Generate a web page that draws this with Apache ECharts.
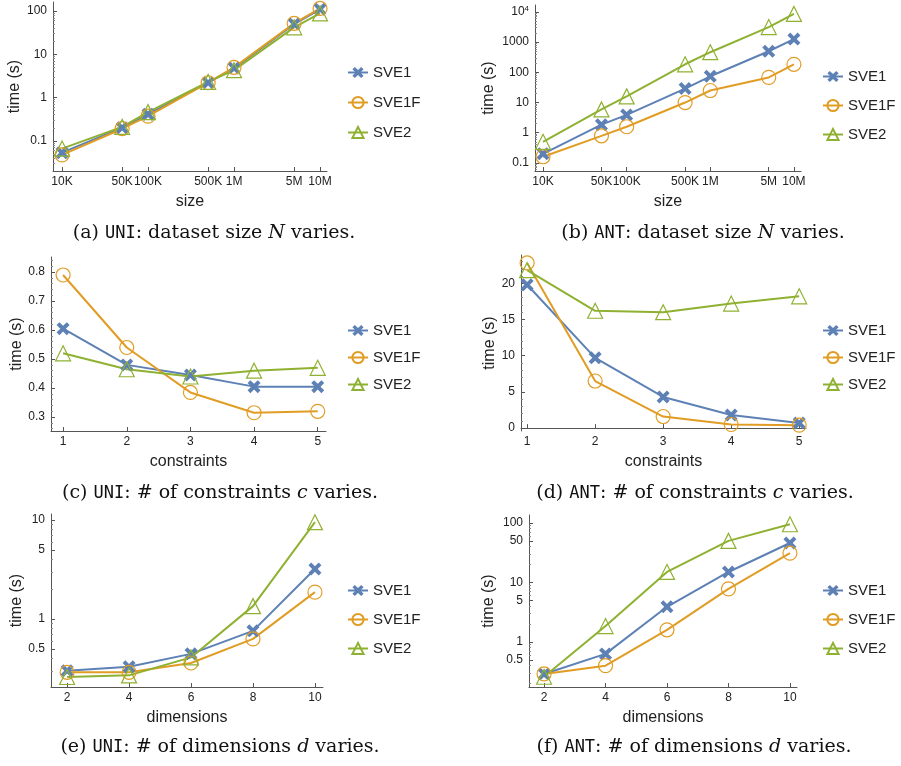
<!DOCTYPE html>
<html>
<head>
<meta charset="utf-8">
<title>SVE timings</title>
<script src="https://cdn.jsdelivr.net/npm/echarts@6/dist/echarts.min.js"></script>
<style>
  html, body { margin: 0; padding: 0; background: #fff; }
  #main { width: 901px; height: 766px; }
</style>
</head>
<body>
<div id="main"></div>
<script>
/* ---------------- data ---------------- */
// x values
var sizes = [1e4, 5e4, 1e5, 5e5, 1e6, 5e6, 1e7];
var sizeLabels = ['10K', '50K', '100K', '500K', '1M', '5M', '10M'];
var constraints = [1, 2, 3, 4, 5];
var dims = [2, 4, 6, 8, 10];

// (a) UNI, size
var uniSizeSVE1  = [0.053, 0.20, 0.41, 2.2, 4.8, 50, 110];
var uniSizeSVE1F = [0.047, 0.19, 0.37, 2.2, 5.0, 52, 115];
var uniSizeSVE2  = [0.066, 0.21, 0.46, 2.3, 4.3, 42, 88];
// (b) ANT, size
var antSizeSVE1  = [0.20, 1.85, 3.9, 29, 74, 500, 1260];
var antSizeSVE1F = [0.16, 0.79, 1.58, 10, 25, 68, 185];
var antSizeSVE2  = [0.50, 5.9, 16, 185, 464, 3160, 8600];
// (c) UNI, constraints
var uniConsSVE1  = [0.605, 0.48, 0.445, 0.405, 0.405];
var uniConsSVE1F = [0.79, 0.54, 0.385, 0.315, 0.32];
var uniConsSVE2  = [0.52, 0.465, 0.44, 0.46, 0.47];
// (d) ANT, constraints
var antConsSVE1  = [19.8, 9.7, 4.3, 1.8, 0.7];
var antConsSVE1F = [22.8, 6.5, 1.6, 0.5, 0.4];
var antConsSVE2  = [21.8, 16.2, 16.0, 17.2, 18.2];
// (e) UNI, dimensions
var uniDimSVE1  = [0.30, 0.33, 0.445, 0.76, 3.2];
var uniDimSVE1F = [0.29, 0.29, 0.36, 0.63, 1.87];
var uniDimSVE2  = [0.26, 0.27, 0.41, 1.35, 9.5];
// (f) ANT, dimensions
var antDimSVE1  = [0.29, 0.63, 3.9, 15, 46];
var antDimSVE1F = [0.29, 0.40, 1.6, 7.8, 31];
var antDimSVE2  = [0.26, 1.85, 15, 50, 95];

// tick values / labels
var yTicksA = [0.1, 1, 10, 100];
var yTicksB = [0.1, 1, 10, 100, 1000, 10000];
var yLabelsB = ['0.1', '1', '10', '100', '1000', '{b|10}{s|4}'];
var yTicksC = [0.3, 0.4, 0.5, 0.6, 0.7, 0.8];
var yTicksD = [0, 5, 10, 15, 20];
var yTicksE = [0.5, 1, 5, 10];
var yTicksF = [0.5, 1, 5, 10, 50, 100];

var seriesNames = ['SVE1', 'SVE1F', 'SVE2'];

var captions = [
	['(a) ', 'UNI', ': dataset size ', 'N', ' varies.'],
	['(b) ', 'ANT', ': dataset size ', 'N', ' varies.'],
	['(c) ', 'UNI', ': # of constraints ', 'c', ' varies.'],
	['(d) ', 'ANT', ': # of constraints ', 'c', ' varies.'],
	['(e) ', 'UNI', ': # of dimensions ', 'd', ' varies.'],
	['(f) ', 'ANT', ': # of dimensions ', 'd', ' varies.']
];

/* ---------------- layout ---------------- */
var FONT = 'Liberation Sans';
var colors = { SVE1: '#5E81B5', SVE1F: '#E19C24', SVE2: '#8FB131' };
var xPath = 'path://M0,3 L3,0 L7,4 L11,0 L14,3 L10,7 L14,11 L11,14 L7,10 L3,14 L0,11 L4,7 Z';

// grid boxes, axis ranges
var panels = [
	{ left: 53,  top: 2,   width: 274, height: 169, xType: 'log', xMin: 7850, xMax: 1.205e7, yType: 'log', yMin: 0.02,  yMax: 162,
	  xTicks: sizes, xLabels: sizeLabels, yTicks: yTicksA, xName: 'size', yGap: 28, legendLeft: 347, legendTop: 65, legendGap: 15 },
	{ left: 535, top: 5,   width: 266, height: 166, xType: 'log', xMin: 8020, xMax: 1.215e7, yType: 'log', yMin: 0.054, yMax: 17000,
	  xTicks: sizes, xLabels: sizeLabels, yTicks: yTicksB, yLabels: yLabelsB, xName: 'size', yGap: 38, legendLeft: 822, legendTop: 69, legendGap: 14 },
	{ left: 51,  top: 257, width: 275, height: 174, xType: 'value', xMin: 0.81, xMax: 5.13, yType: 'value', yMin: 0.252, yMax: 0.852,
	  xTicks: constraints, yTicks: yTicksC, xName: 'constraints', yGap: 26, legendLeft: 347, legendTop: 323, legendGap: 12 },
	{ left: 521, top: 255, width: 285, height: 176, xType: 'value', xMin: 0.91, xMax: 5.1, yType: 'value', yMin: -0.4, yMax: 23.9,
	  xTicks: constraints, yTicks: yTicksD, xName: 'constraints', yGap: 23, legendLeft: 822, legendTop: 323, legendGap: 12 },
	{ left: 51,  top: 514, width: 272, height: 173, xType: 'value', xMin: 1.48, xMax: 10.26, yType: 'log', yMin: 0.206, yMax: 11.5,
	  xTicks: dims, yTicks: yTicksE, xName: 'dimensions', yGap: 26, legendLeft: 347, legendTop: 583, legendGap: 14 },
	{ left: 529, top: 515, width: 268, height: 172, xType: 'value', xMin: 1.51, xMax: 10.23, yType: 'log', yMin: 0.175, yMax: 136,
	  xTicks: dims, yTicks: yTicksF, xName: 'dimensions', yGap: 32, legendLeft: 822, legendTop: 583, legendGap: 14 }
];
var captionPos = [[214, 236], [703, 236], [220, 496], [695, 496], [220, 750], [694, 750]];

/**
 * 标签格式化: 在刻度表里查值
 */
function pickLabel(ticks, labels) {
	return function (v) {
		for (var i = 0; i < ticks.length; i++) {
			if (Math.abs(ticks[i] - v) <= Math.max(1e-9, Math.abs(ticks[i]) * 1e-6)) {
				return labels ? labels[i] : String(ticks[i]);
			}
		}
		return '';
	};
}

/**
 * 次刻度值
 */
function minorTicks(p) {
	var out = [];
	if (p.yType === 'log') {
		for (var e = -3; e <= 5; e++) {
			for (var k = 2; k <= 9; k++) {
				var v = k * Math.pow(10, e);
				if (v > p.yMin && v < p.yMax && p.yTicks.indexOf(v) < 0) out.push(v);
			}
		}
	} else {
		var step = (p.yTicks[1] - p.yTicks[0]) / 5;
		for (var j = Math.ceil(p.yMin / step); j * step < p.yMax; j++) {
			var w = +(j * step).toFixed(6);
			if (j % 5 !== 0) out.push(w);
		}
	}
	return out;
}

function xAxisOf(p, i) {
	return {
		type: p.xType, gridIndex: i, min: p.xMin, max: p.xMax,
		name: p.xName, nameLocation: 'middle', nameGap: 23,
		nameTextStyle: { fontFamily: FONT, fontSize: 16, color: '#222' },
		axisLine: { lineStyle: { color: '#555', width: 1 } },
		axisTick: { inside: true, length: 4, customValues: p.xTicks, lineStyle: { color: '#555' } },
		axisLabel: { customValues: p.xTicks, formatter: pickLabel(p.xTicks, p.xLabels), margin: 5,
			fontFamily: FONT, fontSize: 12, color: '#222' },
		splitLine: { show: false }
	};
}

function yAxisOf(p, i) {
	return {
		type: p.yType, gridIndex: i, min: p.yMin, max: p.yMax,
		name: 'time (s)', nameLocation: 'middle', nameGap: p.yGap, nameRotate: 90,
		nameTextStyle: { fontFamily: FONT, fontSize: 16, color: '#222' },
		axisLine: { show: true, lineStyle: { color: '#555', width: 1 } },
		axisTick: { inside: true, length: 4, customValues: p.yTicks, lineStyle: { color: '#555' } },
		axisLabel: { customValues: p.yTicks, formatter: pickLabel(p.yTicks, p.yLabels), margin: 6,
			fontFamily: FONT, fontSize: 12, color: '#222',
			rich: { b: { fontFamily: FONT, fontSize: 12, color: '#222' },
					s: { fontFamily: FONT, fontSize: 8, color: '#222', verticalAlign: 'top', padding: [0, 0, 6, 0] } } },
		splitLine: { show: false }
	};
}

// 次刻度轴, 只画短刻度
function minorAxisOf(p, i) {
	return {
		type: p.yType, gridIndex: i, min: p.yMin, max: p.yMax, position: 'left',
		axisLine: { show: false },
		axisTick: { show: true, inside: true, length: 2, customValues: minorTicks(p), lineStyle: { color: '#888' } },
		axisLabel: { show: false },
		splitLine: { show: false }
	};
}

function makeSeries(name, xs, ys, i) {
	var c = colors[name];
	var s = {
		name: name, type: 'line', xAxisIndex: i, yAxisIndex: i,
		data: xs.map(function (x, k) { return [x, ys[k]]; }),
		lineStyle: { color: c, width: 2 },
		color: c,
		emphasis: { disabled: true }
	};
	if (name === 'SVE1') {
		s.symbol = xPath; s.symbolSize = 13;
		s.itemStyle = { color: c };
	} else if (name === 'SVE1F') {
		s.symbol = 'circle'; s.symbolSize = 14;
		s.itemStyle = { color: 'rgba(255,255,255,0)', borderColor: c, borderWidth: 1.2 };
	} else {
		s.symbol = 'triangle'; s.symbolSize = 15;
		s.itemStyle = { color: 'rgba(255,255,255,0)', borderColor: c, borderWidth: 1.2 };
	}
	return s;
}

var panelData = [
	[sizes, uniSizeSVE1, uniSizeSVE1F, uniSizeSVE2],
	[sizes, antSizeSVE1, antSizeSVE1F, antSizeSVE2],
	[constraints, uniConsSVE1, uniConsSVE1F, uniConsSVE2],
	[constraints, antConsSVE1, antConsSVE1F, antConsSVE2],
	[dims, uniDimSVE1, uniDimSVE1F, uniDimSVE2],
	[dims, antDimSVE1, antDimSVE1F, antDimSVE2]
];

var capRich = {
	p: { fontFamily: 'DejaVu Serif', fontSize: 19, fontWeight: 'normal', color: '#111' },
	m: { fontFamily: 'DejaVu Sans Mono', fontSize: 17, fontWeight: 'normal', color: '#111' },
	i: { fontFamily: 'DejaVu Serif', fontSize: 19, fontWeight: 'normal', fontStyle: 'italic', color: '#111' }
};

function initChart() {
	var chart = echarts.init(document.getElementById('main'), null, { renderer: 'canvas' });
	var grids = [], xAxes = [], yAxes = [], minorAxes = [], series = [], legends = [], titles = [];

	panels.forEach(function (p, i) {
		grids.push({ left: p.left, top: p.top, width: p.width, height: p.height });
		xAxes.push(xAxisOf(p, i));
		yAxes.push(yAxisOf(p, i));
		minorAxes.push(minorAxisOf(p, i));
		var d = panelData[i];
		seriesNames.forEach(function (n, k) {
			series.push(makeSeries(n, d[0], d[k + 1], i));
		});
		legends.push({
			orient: 'vertical', left: p.legendLeft, top: p.legendTop, padding: 0,
			itemWidth: 20, itemHeight: 14, itemGap: p.legendGap,
			data: seriesNames, selectedMode: false,
			textStyle: { fontFamily: FONT, fontSize: 15, color: '#222' }
		});
		var c = captions[i];
		titles.push({
			text: '{p|' + c[0] + '}{m|' + c[1] + '}{p|' + c[2] + '}{i|' + c[3] + '}{p|' + c[4] + '}',
			left: captionPos[i][0], top: captionPos[i][1] - 12, textAlign: 'center', padding: 0,
			textStyle: { fontWeight: 'normal', rich: capRich }
		});
	});

	var option = {
		animation: false,
		backgroundColor: '#fff',
		title: titles,
		legend: legends,
		grid: grids,
		xAxis: xAxes,
		yAxis: yAxes.concat(minorAxes),
		series: series
	};
	chart.setOption(option);
}

initChart();
</script>
</body>
</html>
